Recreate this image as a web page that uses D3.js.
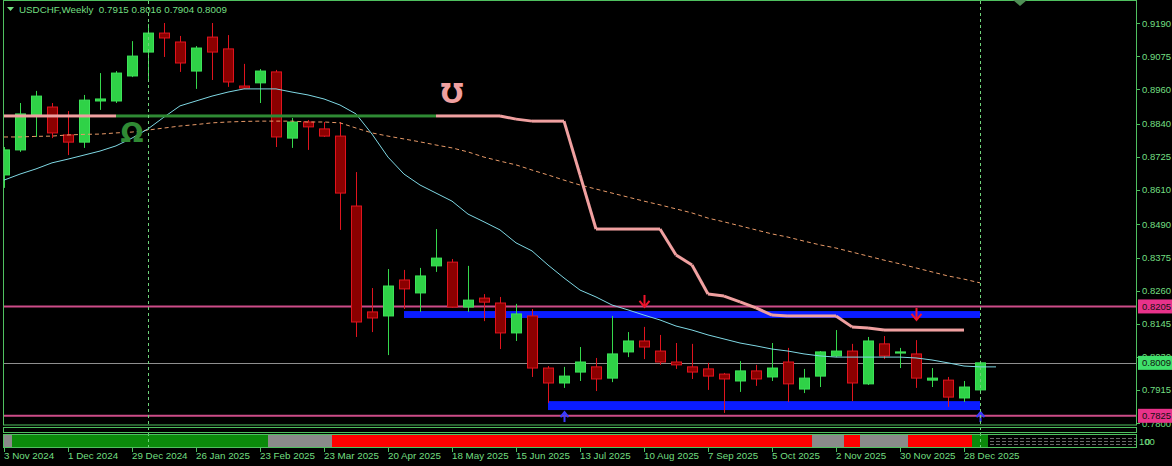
<!DOCTYPE html>
<html>
<head>
<meta charset="utf-8">
<script src="https://cdn.jsdelivr.net/npm/d3@7"></script>
<style>
  html, body { margin: 0; padding: 0; background: #000; }
  svg { display: block; }
</style>
</head>
<body>
<div id="chart"></div>
<script>
/**
 * Weekly USDCHF candles.
 */
const symbolTitle = "USDCHF,Weekly";
const lastQuote = ["0.7915", "0.8016", "0.7904", "0.8009"];

const opens = [0.8662, 0.8749, 0.8870, 0.8898, 0.8801, 0.8776, 0.8919, 0.8919, 0.9006, 0.9089,
  0.9155, 0.9124, 0.9023, 0.9141, 0.9100, 0.8971, 0.8982, 0.9020, 0.8790, 0.8846,
  0.8822, 0.8797, 0.8554, 0.8186, 0.8172, 0.8297, 0.8252, 0.8346, 0.8359, 0.8203,
  0.8234, 0.8217, 0.8113, 0.8172, 0.7991, 0.7939, 0.7977, 0.7995, 0.7956, 0.8047,
  0.8085, 0.8050, 0.8012, 0.7995, 0.7988, 0.7970, 0.7946, 0.7981, 0.7960, 0.8012,
  0.7918, 0.7963, 0.8033, 0.8050, 0.7936, 0.8075, 0.8043, 0.8040, 0.7949, 0.7949,
  0.7887, 0.7915];
const highs = [0.8759, 0.8912, 0.8954, 0.8912, 0.8884, 0.8940, 0.9016, 0.9023, 0.9127, 0.9187,
  0.9190, 0.9145, 0.9110, 0.9190, 0.9148, 0.9048, 0.9030, 0.9027, 0.8860, 0.8853,
  0.8846, 0.8846, 0.8672, 0.8269, 0.8335, 0.8332, 0.8339, 0.8474, 0.8370, 0.8346,
  0.8248, 0.8238, 0.8214, 0.8196, 0.7998, 0.7995, 0.8064, 0.8026, 0.8172, 0.8116,
  0.8134, 0.8106, 0.8078, 0.8075, 0.8009, 0.7974, 0.8015, 0.8002, 0.8078, 0.8061,
  0.7988, 0.8050, 0.8123, 0.8075, 0.8099, 0.8102, 0.8061, 0.8088, 0.7991, 0.7960,
  0.7946, 0.8016];
const lows = [0.8617, 0.8742, 0.8794, 0.8790, 0.8731, 0.8756, 0.8888, 0.8912, 0.9002, 0.8992,
  0.9072, 0.9020, 0.8961, 0.8992, 0.8968, 0.8962, 0.8912, 0.8759, 0.8756, 0.8749,
  0.8794, 0.8471, 0.8099, 0.8116, 0.8036, 0.8196, 0.8186, 0.8325, 0.8200, 0.8186,
  0.8154, 0.8057, 0.8085, 0.7960, 0.7870, 0.7922, 0.7946, 0.7911, 0.7942, 0.8029,
  0.8022, 0.8002, 0.7988, 0.7953, 0.7915, 0.7835, 0.7908, 0.7929, 0.7946, 0.7873,
  0.7904, 0.7925, 0.8029, 0.7876, 0.7932, 0.8022, 0.7991, 0.7922, 0.7925, 0.7856,
  0.7873, 0.7904];
const closes = [0.8749, 0.8874, 0.8936, 0.8808, 0.8776, 0.8922, 0.8926, 0.9016, 0.9075, 0.9155,
  0.9138, 0.9051, 0.9103, 0.9089, 0.8985, 0.8964, 0.9023, 0.8794, 0.8846, 0.8829,
  0.8797, 0.8599, 0.8151, 0.8165, 0.8276, 0.8266, 0.8311, 0.8373, 0.8203, 0.8227,
  0.8220, 0.8113, 0.8179, 0.7991, 0.7939, 0.7963, 0.8012, 0.7953, 0.8040, 0.8085,
  0.8064, 0.8012, 0.8002, 0.7977, 0.7963, 0.7953, 0.7981, 0.7953, 0.7991, 0.7936,
  0.7956, 0.8047, 0.8050, 0.7939, 0.8085, 0.8033, 0.8047, 0.7956, 0.7956, 0.7890,
  0.7925, 0.8009];

// Fast moving average (shifted one bar to the right, so one value more).
const fastMa = [0.8644, 0.8665, 0.8683, 0.8704, 0.8717, 0.8731, 0.8745, 0.8763, 0.8790, 0.8822,
  0.8863, 0.8902, 0.8919, 0.8936, 0.8950, 0.8961, 0.8961, 0.8961, 0.8950, 0.8940,
  0.8926, 0.8905, 0.8874, 0.8804, 0.8724, 0.8665, 0.8627, 0.8599, 0.8571, 0.8526,
  0.8499, 0.8471, 0.8426, 0.8398, 0.8349, 0.8304, 0.8262, 0.8238, 0.8210, 0.8193,
  0.8175, 0.8158, 0.8137, 0.8123, 0.8106, 0.8092, 0.8078, 0.8068, 0.8057, 0.8050,
  0.8040, 0.8033, 0.8029, 0.8029, 0.8029, 0.8029, 0.8029, 0.8026, 0.8019, 0.8009,
  0.7998, 0.7995, 0.7995];
// Slow moving average, dashed.
const slowMa = [0.8794, 0.8794, 0.8796, 0.8797, 0.8801, 0.8803, 0.8804, 0.8808, 0.8811, 0.8818,
  0.8825, 0.8832, 0.8837, 0.8843, 0.8846, 0.8848, 0.8849, 0.8849, 0.8849, 0.8846,
  0.8846, 0.8843, 0.8825, 0.8808, 0.8797, 0.8787, 0.8777, 0.8766, 0.8756, 0.8742,
  0.8724, 0.8710, 0.8697, 0.8679, 0.8662, 0.8644, 0.8627, 0.8613, 0.8599, 0.8585,
  0.8571, 0.8558, 0.8544, 0.8530, 0.8512, 0.8499, 0.8485, 0.8471, 0.8457, 0.8446,
  0.8432, 0.8419, 0.8408, 0.8394, 0.8380, 0.8366, 0.8353, 0.8339, 0.8325, 0.8311,
  0.8300, 0.8287];
// Trailing stop line and its trend (1 = up / green, 0 = down / pink).
const trailStop = [0.8867, 0.8867, 0.8867, 0.8867, 0.8867, 0.8867, 0.8867, 0.8867, 0.8867, 0.8867,
  0.8867, 0.8867, 0.8867, 0.8867, 0.8867, 0.8867, 0.8867, 0.8867, 0.8867, 0.8867,
  0.8867, 0.8867, 0.8867, 0.8867, 0.8867, 0.8867, 0.8867, 0.8867, 0.8867, 0.8867,
  0.8867, 0.8867, 0.8856, 0.8849, 0.8849, 0.8849, 0.8662, 0.8474, 0.8474, 0.8474,
  0.8474, 0.8474, 0.8384, 0.8349, 0.8248, 0.8241, 0.8221, 0.8200, 0.8175, 0.8172,
  0.8172, 0.8172, 0.8172, 0.8134, 0.8130, 0.8123, 0.8123, 0.8123, 0.8123, 0.8123,
  0.8123];
const trailTrend = [0, 0, 0, 0, 0, 0, 0, 1, 1, 1, 1, 1, 1, 1, 1, 1, 1, 1, 1, 1,
  1, 1, 1, 1, 1, 1, 1, 1, 0, 0, 0, 0, 0, 0, 0, 0, 0, 0, 0, 0,
  0, 0, 0, 0, 0, 0, 0, 0, 0, 0, 0, 0, 0, 0, 0, 0, 0, 0, 0, 0, 0];

// Trend histogram in the bottom sub-window (1 up, -1 down, 0 flat).
const trendState = [0, 1, 1, 1, 1, 1, 1, 1, 1, 1, 1, 1, 1, 1, 1, 1, 1, 0, 0, 0,
  0, -1, -1, -1, -1, -1, -1, -1, -1, -1, -1, -1, -1, -1, -1, -1, -1, -1, -1, -1,
  -1, -1, -1, -1, -1, -1, -1, -1, -1, -1, -1, 0, 0, -1, 0, 0, 0, -1, -1, -1,
  -1, 1];

// Support / resistance zones.
const zoneTop = [0.8189, 0.7876];
const zoneBottom = [0.8165, 0.7845];
const zoneStart = [25, 34];
const zoneEnd = [61, 61];

// Horizontal levels.
const levels = [0.8205, 0.7825];
const bidPrice = 0.8009;

// Signals.
const sellArrowBars = [40, 57];
const sellArrowPrices = [0.8245, 0.8200];
const buyArrowBars = [35, 61];
const buyArrowPrices = [0.7838, 0.7838];
const omegaBars = [8, 28];
const omegaPrices = [0.8808, 0.8950];
const omegaColors = ["#2f8a34", "#f0a0a0"];

// Year separators.
const separatorBars = [9, 61];

// Axis labels.
const priceTicks = ["0.9190", "0.9075", "0.8960", "0.8840", "0.8725", "0.8610", "0.8490",
  "0.8375", "0.8260", "0.8145", "0.8030", "0.7915", "0.7800"];
const dateTicks = ["3 Nov 2024", "1 Dec 2024", "29 Dec 2024", "26 Jan 2025", "23 Feb 2025",
  "23 Mar 2025", "20 Apr 2025", "18 May 2025", "15 Jun 2025", "13 Jul 2025", "10 Aug 2025",
  "7 Sep 2025", "5 Oct 2025", "2 Nov 2025", "30 Nov 2025", "28 Dec 2025"];

/**
 * Layout.
 */
const W = 1172, H = 466;
const Plot = { left: 3, right: 1136, top: 1, bottom: 425 };
const Sub1 = { top: 427, bottom: 432 };
const Sub2 = { top: 434, bottom: 447 };
const BarStep = 16;
const AxisColor = "#4fc05f";
const TextColor = "#72df80";
const Font = "'Liberation Sans', Arial, sans-serif";

const x = d3.scaleLinear().domain([0, 61]).range([4, 980]);
const y = d3.scaleLinear().domain([0.7800, 0.9190]).range([423, 23]);

const svg = d3.select("#chart").append("svg")
  .attr("width", W).attr("height", H)
  .style("background", "#000");

svg.append("defs").append("clipPath").attr("id", "plotClip")
  .append("rect")
    .attr("x", Plot.left).attr("y", Plot.top)
    .attr("width", Plot.right - Plot.left).attr("height", Plot.bottom - Plot.top);

const plot = svg.append("g").attr("clip-path", "url(#plotClip)");

// Horizontal levels and bid line.
plot.selectAll(".level")
  .data(levels)
  .join("line")
    .attr("x1", Plot.left).attr("x2", Plot.right)
    .attr("y1", d => y(d)).attr("y2", d => y(d))
    .attr("stroke", "#cc4c88").attr("stroke-width", 2);

plot.append("line")
  .attr("x1", Plot.left).attr("x2", Plot.right)
  .attr("y1", Math.round(y(bidPrice)) + 0.5).attr("y2", Math.round(y(bidPrice)) + 0.5)
  .attr("stroke", "#8f8f8f").attr("stroke-width", 1);

// Zones.
plot.selectAll(".zone")
  .data(zoneTop.map((t, i) => i))
  .join("rect")
    .attr("x", i => x(zoneStart[i]))
    .attr("width", i => x(zoneEnd[i]) - x(zoneStart[i]))
    .attr("y", i => y(zoneTop[i]))
    .attr("height", i => y(zoneBottom[i]) - y(zoneTop[i]))
    .attr("fill", "#0a1cff");

// Candles.
const bars = d3.range(opens.length);
const candle = plot.append("g").selectAll("g")
  .data(bars)
  .join("g")
    .attr("transform", i => `translate(${Math.round(x(i)) + 0.5},0)`);

candle.append("line")
  .attr("y1", i => y(highs[i])).attr("y2", i => y(lows[i]))
  .attr("stroke", i => closes[i] >= opens[i] ? "#35d84c" : "#e0141e");

candle.append("rect")
  .attr("x", -5).attr("width", 10)
  .attr("y", i => y(Math.max(opens[i], closes[i])))
  .attr("height", i => Math.max(1, Math.abs(y(opens[i]) - y(closes[i]))))
  .attr("fill", i => closes[i] >= opens[i] ? "#2fd247" : "#8b0000")
  .attr("stroke", i => closes[i] >= opens[i] ? "#3ee35a" : "#e0141e")
  .attr("stroke-width", 1);

// Moving averages.
plot.append("path")
  .datum(slowMa)
  .attr("d", d3.line().x((d, i) => x(i)).y(d => y(d)))
  .attr("fill", "none").attr("stroke", "#e89a68")
  .attr("stroke-width", 1).attr("stroke-dasharray", "4,3");

plot.append("path")
  .datum(fastMa)
  .attr("d", d3.line().x((d, i) => x(i)).y(d => y(d)))
  .attr("fill", "none").attr("stroke", "#7fd8e4").attr("stroke-width", 1);

// Trailing stop, segment by segment.
plot.append("g").selectAll("line")
  .data(d3.range(trailStop.length - 1))
  .join("line")
    .attr("x1", i => x(i)).attr("x2", i => x(i + 1))
    .attr("y1", i => y(trailStop[i])).attr("y2", i => y(trailStop[i + 1]))
    .attr("stroke", i => trailTrend[i] && trailTrend[i + 1] ? "#2f8a34" : "#f0a0a0")
    .attr("stroke-width", 3);

// Omega markers.
plot.selectAll(".omega")
  .data(omegaBars.map((b, i) => i))
  .join("text")
    .attr("transform", i => `translate(${x(omegaBars[i])},${y(omegaPrices[i])}) rotate(${i === 0 ? 0 : 180})`)
    .attr("text-anchor", "middle")
    .attr("dominant-baseline", "central")
    .attr("font-family", "'DejaVu Sans', sans-serif")
    .attr("font-weight", "bold")
    .attr("font-size", 27)
    .attr("fill", i => omegaColors[i])
    .text("Ω");

// Sell arrows.
const sell = plot.selectAll(".sell")
  .data(sellArrowBars.map((b, i) => i))
  .join("g")
    .attr("transform", i => `translate(${Math.round(x(sellArrowBars[i])) + 0.5},${y(sellArrowPrices[i])})`);
sell.append("line").attr("y1", 0).attr("y2", 11)
  .attr("stroke", "#f0142c").attr("stroke-width", 2);
sell.append("path").attr("d", "M-5,6 L0,12 L5,6")
  .attr("fill", "none").attr("stroke", "#f0142c").attr("stroke-width", 2);

// Buy arrows below the lower zone.
const buy = plot.selectAll(".buy")
  .data(buyArrowBars.map((b, i) => i))
  .join("g")
    .attr("transform", i => `translate(${Math.round(x(buyArrowBars[i])) + 0.5},${y(buyArrowPrices[i])})`);
buy.append("line").attr("y1", 0).attr("y2", 10)
  .attr("stroke", "#3a3cff").attr("stroke-width", 2);
buy.append("path").attr("d", "M-4,5 L0,0 L4,5")
  .attr("fill", "none").attr("stroke", "#3a3cff").attr("stroke-width", 2);

// Bottom trend strip.
const stripColor = s => s > 0 ? "#0b8a0b" : s < 0 ? "#ff0000" : "#8a8a8a";
const strip = svg.append("g");
strip.selectAll("rect")
  .data(trendState)
  .join("rect")
    .attr("x", (d, i) => Math.max(Plot.left, x(i) - BarStep / 2))
    .attr("width", (d, i) => x(i) + BarStep / 2 - Math.max(Plot.left, x(i) - BarStep / 2))
    .attr("y", Sub2.top + 1).attr("height", Sub2.bottom - Sub2.top - 1)
    .attr("fill", stripColor);

// Empty future area of the strip.
const emptyLeft = x(trendState.length - 1) + BarStep / 2;
[438, 441, 444].forEach(r => {
  strip.append("line")
    .attr("x1", emptyLeft + 2).attr("x2", Plot.right)
    .attr("y1", r + 0.5).attr("y2", r + 0.5)
    .attr("stroke", "#6a6a6a").attr("stroke-dasharray", "4,2");
});

// Year separators across every window.
svg.selectAll(".sep")
  .data(separatorBars)
  .join("line")
    .attr("x1", d => Math.round(x(d)) + 0.5).attr("x2", d => Math.round(x(d)) + 0.5)
    .attr("y1", Plot.top).attr("y2", Sub2.bottom)
    .attr("stroke", "#6fd27a").attr("stroke-dasharray", "3,3");

// Window frames.
const frame = svg.append("g").attr("fill", "none").attr("stroke", AxisColor);
frame.append("rect")
  .attr("x", Plot.left + 0.5).attr("y", Plot.top - 0.5)
  .attr("width", Plot.right - Plot.left).attr("height", Plot.bottom - Plot.top + 0.5);
frame.append("rect")
  .attr("x", Plot.left + 0.5).attr("y", Sub1.top + 0.5)
  .attr("width", Plot.right - Plot.left).attr("height", Sub1.bottom - Sub1.top);
frame.append("rect")
  .attr("x", Plot.left + 0.5).attr("y", Sub2.top + 0.5)
  .attr("width", Plot.right - Plot.left).attr("height", Sub2.bottom - Sub2.top);

// Price axis.
const priceAxis = svg.append("g");
priceAxis.selectAll("line")
  .data(priceTicks)
  .join("line")
    .attr("x1", Plot.right + 0.5).attr("x2", Plot.right + 4)
    .attr("y1", d => Math.round(y(+d)) + 0.5).attr("y2", d => Math.round(y(+d)) + 0.5)
    .attr("stroke", AxisColor);
priceAxis.selectAll("text")
  .data(priceTicks)
  .join("text")
    .attr("x", Plot.right + 6).attr("y", d => y(+d))
    .attr("dominant-baseline", "central")
    .attr("font-family", Font).attr("font-size", 9.5)
    .attr("fill", TextColor)
    .text(d => d);

// Highlighted price labels.
const tags = [
  { v: levels[0], bg: "#e8328a" },
  { v: bidPrice, bg: "#3fe06a" },
  { v: levels[1], bg: "#e8328a" },
];
const tag = svg.selectAll(".tag")
  .data(tags)
  .join("g")
    .attr("transform", d => `translate(${Plot.right + 2},${y(d.v)})`);
tag.append("rect")
  .attr("x", 0).attr("y", -7).attr("width", W - Plot.right - 2).attr("height", 14)
  .attr("fill", d => d.bg);
tag.append("text")
  .attr("x", 4).attr("y", 0)
  .attr("dominant-baseline", "central")
  .attr("font-family", Font).attr("font-size", 9.5)
  .attr("fill", "#111")
  .text(d => d.v.toFixed(4));

// Sub-window scale labels.
svg.append("text").attr("x", Plot.right + 3).attr("y", 441)
  .attr("dominant-baseline", "central")
  .attr("font-family", Font).attr("font-size", 9.5).attr("fill", TextColor)
  .text("100");
svg.append("text").attr("x", Plot.right + 9).attr("y", 441)
  .attr("dominant-baseline", "central")
  .attr("font-family", Font).attr("font-size", 9.5).attr("fill", TextColor)
  .text("0");

// Time axis.
const timeAxis = svg.append("g");
timeAxis.selectAll("line")
  .data(dateTicks)
  .join("line")
    .attr("x1", (d, k) => Math.round(x(k * 4)) + 0.5).attr("x2", (d, k) => Math.round(x(k * 4)) + 0.5)
    .attr("y1", Sub2.bottom + 1).attr("y2", Sub2.bottom + 5)
    .attr("stroke", AxisColor);
timeAxis.selectAll("text")
  .data(dateTicks)
  .join("text")
    .attr("x", (d, k) => x(k * 4))
    .attr("y", 459)
    .attr("font-family", Font).attr("font-size", 9.8)
    .attr("fill", TextColor)
    .text(d => d);

// Title.
svg.append("path").attr("d", "M7,7 L14,7 L10.5,11 Z").attr("fill", TextColor);
svg.append("text")
  .attr("x", 19).attr("y", 13)
  .attr("font-family", Font).attr("font-size", 9.8)
  .attr("fill", TextColor)
  .text(`${symbolTitle}  ${lastQuote.join(" ")}`)
  .attr("xml:space", "preserve");

// Chart shift marker.
svg.append("path").attr("d", "M1013,0 L1027,0 L1020,6 Z").attr("fill", "#4f8f55");
</script>
</body>
</html>
